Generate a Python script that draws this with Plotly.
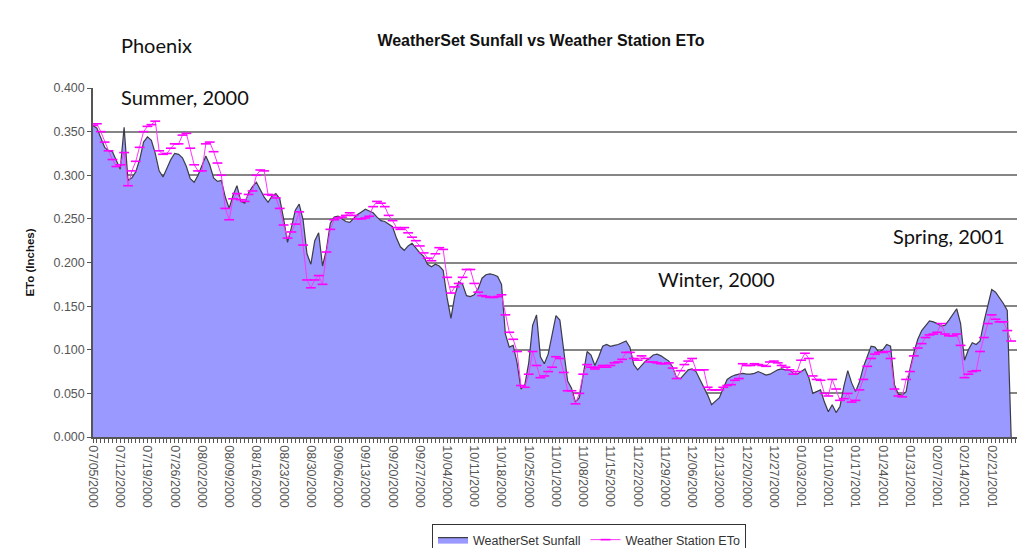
import plotly.graph_objects as go
import pandas as pd

start_date = "2000-07-05"

sunfall = [
    0.357, 0.354, 0.343, 0.332, 0.328, 0.327, 0.317, 0.307, 0.355, 0.294,
    0.297, 0.304, 0.318, 0.338, 0.344, 0.340, 0.325, 0.305, 0.298, 0.308,
    0.318, 0.325, 0.324, 0.320, 0.310, 0.296, 0.292, 0.300, 0.312, 0.322,
    0.312, 0.297, 0.293, 0.294, 0.275, 0.262, 0.277, 0.288, 0.270, 0.268,
    0.280, 0.287, 0.292, 0.284, 0.275, 0.269, 0.276, 0.279, 0.273, 0.250,
    0.223, 0.240, 0.260, 0.267, 0.249, 0.210, 0.198, 0.225, 0.234, 0.196,
    0.215, 0.245, 0.252, 0.253, 0.250, 0.247, 0.246, 0.251, 0.255, 0.258,
    0.261, 0.259, 0.257, 0.252, 0.248, 0.247, 0.244, 0.241, 0.228, 0.218,
    0.214, 0.219, 0.222, 0.216, 0.211, 0.207, 0.198, 0.195, 0.198, 0.196,
    0.191, 0.160, 0.136, 0.162, 0.178, 0.175, 0.162, 0.161, 0.163, 0.170,
    0.182, 0.186, 0.187, 0.186, 0.184, 0.175, 0.118, 0.103, 0.105, 0.085,
    0.055, 0.060, 0.085, 0.128, 0.140, 0.092, 0.084, 0.095, 0.118, 0.139,
    0.134, 0.100, 0.064, 0.056, 0.040, 0.045, 0.074, 0.098, 0.094, 0.082,
    0.092, 0.104, 0.106, 0.104, 0.105, 0.106, 0.108, 0.110, 0.103, 0.083,
    0.077, 0.082, 0.087, 0.090, 0.094, 0.095, 0.093, 0.090, 0.087, 0.080,
    0.068, 0.067, 0.072, 0.077, 0.078, 0.075, 0.066, 0.057, 0.048, 0.037,
    0.041, 0.045, 0.056, 0.066, 0.069, 0.071, 0.072, 0.073, 0.072, 0.072,
    0.073, 0.075, 0.073, 0.071, 0.072, 0.075, 0.077, 0.078, 0.077, 0.077,
    0.073, 0.072, 0.075, 0.078, 0.068, 0.050, 0.052, 0.054, 0.040, 0.029,
    0.037, 0.028, 0.035, 0.058, 0.076, 0.062, 0.052, 0.063, 0.080, 0.093,
    0.104, 0.103, 0.097, 0.100, 0.106, 0.104, 0.060, 0.049, 0.048, 0.052,
    0.078, 0.097, 0.112, 0.122, 0.128, 0.133, 0.132, 0.130, 0.127, 0.128,
    0.134, 0.141, 0.147, 0.130, 0.088, 0.100, 0.108, 0.106, 0.110, 0.132,
    0.152, 0.169, 0.166, 0.160, 0.153, 0.145, 0.000,
]

station_eto = [
    0.357, 0.359, 0.350, 0.338, 0.328, 0.318, 0.310, 0.312, 0.326, 0.288,
    0.305, 0.316, 0.332, 0.350, 0.356, 0.358, 0.362, 0.328, 0.324, 0.325,
    0.331, 0.336, 0.336, 0.346, 0.348, 0.331, 0.312, 0.305, 0.305, 0.336,
    0.338, 0.327, 0.314, 0.300, 0.262, 0.249, 0.273, 0.279, 0.272, 0.270,
    0.278, 0.282, 0.300, 0.306, 0.305, 0.278, 0.277, 0.274, 0.262, 0.243,
    0.228, 0.235, 0.244, 0.258, 0.220, 0.180, 0.171, 0.180, 0.185, 0.175,
    0.212, 0.238, 0.249, 0.251, 0.252, 0.254, 0.257, 0.254, 0.250, 0.250,
    0.251, 0.253, 0.264, 0.270, 0.268, 0.264, 0.254, 0.248, 0.240, 0.238,
    0.240, 0.234, 0.229, 0.225, 0.219, 0.211, 0.205, 0.202, 0.210, 0.217,
    0.215, 0.183, 0.165, 0.172, 0.176, 0.183, 0.192, 0.192, 0.176, 0.166,
    0.162, 0.161, 0.160, 0.160, 0.161, 0.163, 0.140, 0.120, 0.112, 0.098,
    0.059, 0.057, 0.072, 0.098, 0.082, 0.068, 0.070, 0.075, 0.080, 0.092,
    0.090, 0.074, 0.053, 0.053, 0.038, 0.050, 0.072, 0.083, 0.080, 0.078,
    0.080, 0.082, 0.080, 0.082, 0.085, 0.086, 0.089, 0.097, 0.097, 0.090,
    0.088, 0.093, 0.090, 0.086, 0.086, 0.085, 0.084, 0.084, 0.085, 0.079,
    0.067, 0.076, 0.083, 0.087, 0.090, 0.077, 0.077, 0.077, 0.057, 0.054,
    0.054, 0.054, 0.057, 0.059, 0.060, 0.065, 0.067, 0.084, 0.082, 0.082,
    0.084, 0.083, 0.082, 0.081, 0.086, 0.087, 0.085, 0.082, 0.080, 0.077,
    0.072, 0.075, 0.088, 0.096, 0.090, 0.070, 0.066, 0.065, 0.050, 0.047,
    0.066, 0.055, 0.042, 0.044, 0.050, 0.040, 0.042, 0.054, 0.066, 0.081,
    0.090, 0.095, 0.097, 0.097, 0.098, 0.090, 0.055, 0.047, 0.046, 0.066,
    0.075, 0.093, 0.102, 0.107, 0.114, 0.117, 0.118, 0.120, 0.130, 0.118,
    0.116, 0.116, 0.118, 0.105, 0.068, 0.072, 0.075, 0.076, 0.098, 0.114,
    0.130, 0.140, 0.135, 0.132, 0.132, 0.122, 0.110,
]

tick_labels = [
    "07/05/2000", "07/12/2000", "07/19/2000", "07/26/2000", "08/02/2000",
    "08/09/2000", "08/16/2000", "08/23/2000", "08/30/2000", "09/06/2000",
    "09/13/2000", "09/20/2000", "09/27/2000", "10/04/2000", "10/11/2000",
    "10/18/2000", "10/25/2000", "11/01/2000", "11/08/2000", "11/15/2000",
    "11/22/2000", "11/29/2000", "12/06/2000", "12/13/2000", "12/20/2000",
    "12/27/2000", "01/03/2001", "01/10/2001", "01/17/2001", "01/24/2001",
    "01/31/2001", "02/07/2001", "02/14/2001", "02/21/2001",
]

dates = pd.date_range(start_date, periods=len(sunfall), freq="D")
tick_dates = pd.to_datetime(tick_labels, format="%m/%d/%Y")

# page offset introduced by default <body> margin
OFF = 8
W, H = 1030, 548
PL, PR, PT, PB = 93, 1017, 88, 437  # plot box in page pixels

fig = go.Figure()
fig.add_trace(go.Scatter(
    x=dates, y=sunfall, name="WeatherSet Sunfall", mode="lines",
    fill="tozeroy", fillcolor="#9999ff",
    line=dict(color="#3c3c46", width=1.2),
))
fig.add_trace(go.Scatter(
    x=dates, y=station_eto, name="Weather Station ETo", mode="lines+markers",
    line=dict(color="#ff33ff", width=1),
    marker=dict(symbol="line-ew", size=7, color="#ff00ff",
                line=dict(color="#ff00ff", width=1.6)),
))

x_end = pd.Timestamp(start_date) + pd.Timedelta(hours=24 * 237.5)

fig.update_layout(
    width=W, height=H,
    margin=dict(l=PL - OFF, r=W - PR + OFF, t=PT - OFF, b=H - PB + OFF,
                autoexpand=False),
    paper_bgcolor="white", plot_bgcolor="white",
    font=dict(family="Liberation Sans, Arial, sans-serif", color="#333333"),
    title=dict(text="<b>WeatherSet Sunfall vs Weather Station ETo</b>",
               x=(541 - OFF) / W, xanchor="center", xref="container",
               y=1 - (40 - OFF) / H, yanchor="middle", yref="container",
               font=dict(size=16, color="#111111")),
    showlegend=True,
    legend=dict(orientation="h", x=(432 - OFF) / W, xanchor="left",
                xref="container", y=1 - (524 - OFF) / H, yanchor="top",
                yref="container", bordercolor="#333333", borderwidth=1,
                bgcolor="white", font=dict(size=12.5, color="#333333"),
                tracegroupgap=0),
)

fig.update_xaxes(
    type="date", range=[pd.Timestamp(start_date), x_end], automargin=False,
    tickvals=tick_dates, ticktext=tick_labels, tickangle=90,
    ticks="outside", ticklen=4, tickcolor="#555555",
    minor=dict(ticks="outside", ticklen=4, tickcolor="#555555",
               dtick=86400000, tick0=start_date, showgrid=False),
    showline=True, linecolor="#555555", linewidth=1.5,
    showgrid=False, zeroline=False,
    tickfont=dict(size=12.5, color="#555555"),
)
fig.update_yaxes(
    range=[0, 0.4], dtick=0.05, tick0=0, tickformat=".3f", automargin=False,
    ticks="outside", ticklen=4, tickcolor="#555555",
    showline=True, linecolor="#555555", linewidth=1.5,
    showgrid=True, gridcolor="#858585", gridwidth=1.5, zeroline=False,
    tickfont=dict(size=12.5, color="#555555"),
    title=dict(text="<b>ETo (Inches)</b>", font=dict(size=11.5, color="#111111"),
               standoff=16),
)

pw, ph = PR - PL, PB - PT
notes = [
    ("Phoenix", 119, 45),
    ("Summer, 2000", 119, 97),
    ("Winter, 2000", 656, 279),
    ("Spring, 2001", 891, 236),
]
for text, px, py in notes:
    fig.add_annotation(
        text=text, showarrow=False, xref="paper", yref="paper",
        x=(px - PL) / pw, y=(PB - py) / ph,
        xanchor="left", yanchor="middle",
        font=dict(family="Lato, Open Sans, sans-serif", size=20, color="#111111"),
    )

fig.add_shape(type="line", xref="paper", yref="paper",
              x0=(1025 - PL) / pw, x1=(1025 - PL) / pw,
              y0=(PB - 560) / ph, y1=(PB + 10) / ph,
              line=dict(color="#999999", width=1))

fig.write_html("out.html")
